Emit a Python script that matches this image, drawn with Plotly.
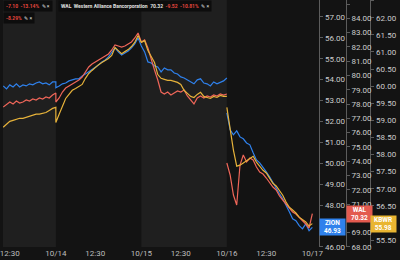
import plotly.graph_objects as go

# ---------------- data ----------------
# session minutes after 09:30 (15-min bars); 10/13 visible from 12:00
minutes_first = list(range(150, 391, 15))
minutes_day = list(range(0, 391, 15))
session_len = 390

zion_1013 = [53.70, 53.56, 53.75, 53.65, 53.80, 53.65, 53.75, 53.70, 53.80, 53.75, 53.84, 53.89, 53.80, 53.84, 53.75, 53.89, 53.89]
zion_1014 = [53.61, 53.70, 53.80, 53.84, 53.94, 53.99, 54.04, 54.04, 54.18, 54.27, 54.37, 54.47, 54.61, 54.70, 54.85, 54.94, 55.09, 55.28, 55.52, 55.33, 55.18, 55.28, 55.37, 55.52, 55.71, 56.00, 55.61]
zion_1015 = [55.61, 55.33, 54.85, 54.80, 54.66, 54.61, 54.37, 54.56, 54.47, 54.47, 54.32, 54.27, 54.13, 54.08, 53.99, 53.89, 53.80, 53.99, 54.04, 53.84, 53.80, 53.70, 53.89, 53.80, 53.89, 53.94, 54.08]
zion_1016 = [52.41, 51.60, 51.36, 51.55, 51.26, 51.17, 50.97, 50.88, 50.50, 50.16, 50.02, 49.83, 49.59, 49.35, 49.06, 48.78, 48.54, 48.30, 48.01, 47.68, 47.34, 47.25, 47.01, 46.86, 47.10, 46.77, 46.93]

wal_1013 = [77.79, 78.00, 78.14, 78.00, 78.21, 78.07, 78.14, 78.28, 78.21, 78.35, 78.28, 78.42, 78.35, 78.49, 78.42, 78.63, 78.77]
wal_1014 = [78.14, 78.42, 78.84, 79.12, 79.26, 79.40, 79.54, 79.68, 79.89, 80.24, 80.59, 80.80, 80.94, 81.08, 81.22, 81.36, 81.50, 81.78, 82.13, 82.06, 81.99, 82.06, 82.20, 82.34, 82.62, 82.97, 82.34]
wal_1015 = [82.34, 82.48, 81.92, 81.08, 80.38, 79.68, 78.84, 78.70, 78.84, 78.63, 78.77, 78.91, 78.84, 78.98, 78.56, 78.28, 78.00, 78.42, 78.56, 78.42, 78.56, 78.49, 78.63, 78.56, 78.70, 78.63, 78.70]
wal_1016 = [73.87, 73.03, 71.63, 70.93, 73.73, 74.43, 73.94, 74.22, 74.08, 73.59, 73.24, 73.10, 72.82, 72.47, 72.19, 71.98, 71.56, 71.28, 71.00, 70.72, 70.44, 70.30, 70.09, 69.81, 69.60, 69.32, 70.32]

kbwr_1013 = [58.80, 58.88, 58.97, 59.00, 59.03, 59.06, 59.06, 59.09, 59.12, 59.15, 59.18, 59.18, 59.20, 59.23, 59.29, 59.35, 59.38]
kbwr_1014 = [58.94, 59.18, 59.44, 59.64, 59.76, 59.88, 59.93, 59.99, 60.05, 60.23, 60.37, 60.46, 60.55, 60.63, 60.69, 60.75, 60.81, 60.90, 61.13, 61.04, 60.95, 61.01, 61.07, 61.16, 61.28, 61.48, 61.28]
kbwr_1015 = [61.28, 61.33, 61.04, 60.87, 60.69, 60.34, 60.23, 60.20, 60.17, 60.17, 60.14, 60.11, 60.05, 59.88, 59.79, 59.70, 59.67, 59.76, 59.82, 59.70, 59.67, 59.64, 59.70, 59.67, 59.73, 59.70, 59.70]
kbwr_1016 = [59.38, 58.71, 58.13, 57.66, 57.69, 57.75, 57.81, 57.89, 57.95, 57.78, 57.66, 57.54, 57.46, 57.31, 57.16, 57.08, 56.96, 56.81, 56.61, 56.46, 56.38, 56.29, 56.17, 56.11, 56.03, 55.91, 55.98]

# visible price-scale labels (those hidden under the price badges are left out)
zion_ticks = [46, 48, 49, 50, 51, 52, 53, 54, 55, 56, 57]
wal_ticks = [68, 69, 71, 72, 73, 74, 75, 76, 77, 78, 79, 80, 81, 82, 83, 84, 85]
kbwr_ticks = [55.5, 56.5, 57.0, 57.5, 58.0, 58.5, 59.0, 59.5, 60.0, 60.5, 61.0, 61.5, 62.0, 62.5]

day_labels = ["10/14", "10/15", "10/16", "10/17"]
mid_label = "12:30"
mid_offset = 180  # 12:30 is 180 min after open

header_zion = "-7.10  -13.14%"
header_wal_name = "WAL  Western Alliance Bancorporation"
header_wal_px = "70.32"
header_wal_chg = "-9.52  -10.81%"
header_kbwr = "-8.29%"

# ---------------- build ----------------
def build(d13, d14, d15, d16):
    xs, ys = [], []
    for m, v in zip(minutes_first, d13):
        xs.append(m); ys.append(v)
    for day, vals in ((1, d14), (2, d15)):
        for m, v in zip(minutes_day, vals):
            xs.append(day * session_len + m); ys.append(v)
    xs.append(None); ys.append(None)
    for m, v in zip(minutes_day, d16):
        xs.append(3 * session_len + m); ys.append(v)
    return xs, ys

zx, zy = build(zion_1013, zion_1014, zion_1015, zion_1016)
wx, wy = build(wal_1013, wal_1014, wal_1015, wal_1016)
kx, ky = build(kbwr_1013, kbwr_1014, kbwr_1015, kbwr_1016)

BLUE = "#2f81ec"
RED = "#ef6659"
YEL = "#e6b23a"

fig = go.Figure()
fig.add_trace(go.Scatter(x=kx, y=ky, mode="lines", line=dict(color=YEL, width=1.2), yaxis="y3", connectgaps=False))
fig.add_trace(go.Scatter(x=wx, y=wy, mode="lines", line=dict(color=RED, width=1.2), yaxis="y2", connectgaps=False))
fig.add_trace(go.Scatter(x=zx, y=zy, mode="lines", line=dict(color=BLUE, width=1.2), yaxis="y", connectgaps=False))

tickvals, ticktext = [], []
for i in range(4):
    tickvals.append(i * session_len + mid_offset); ticktext.append(mid_label)
    tickvals.append((i + 1) * session_len); ticktext.append(day_labels[i])

W, H = 400, 260
PLOT_H = 247
AX1 = 322 / W
AX2 = 349 / W
AX3 = 374 / W

tickfont = dict(family="Roboto", size=8, color="#cccccc")
yax_common = dict(showgrid=False, zeroline=False, showline=True, linecolor="#5c5c5c", linewidth=1,
                  ticks="outside", ticklen=3, tickcolor="#5c5c5c", tickfont=tickfont,
                  tickformat=".2f", side="right", tickmode="array")

fig.update_layout(
    width=W, height=H,
    margin=dict(l=0, r=0, t=0, b=H - PLOT_H),
    paper_bgcolor="#131313", plot_bgcolor="#131313",
    showlegend=False,
    xaxis=dict(domain=[0, AX1], range=[149, 1592], tickmode="array", tickvals=tickvals, ticktext=ticktext,
               ticklabeloverflow="allow",
               showgrid=False, zeroline=False, showline=False, ticks="", tickfont=dict(family="Roboto", size=8, color="#bdbdbd")),
    yaxis=dict(range=[45.99, 57.813], tickvals=zion_ticks, anchor="x", **yax_common),
    yaxis2=dict(range=[67.99, 85.28], tickvals=wal_ticks, overlaying="y", anchor="free", position=AX2, **yax_common),
    yaxis3=dict(range=[55.296, 62.52], tickvals=kbwr_ticks, overlaying="y", anchor="free", position=AX3, **yax_common),
)

# day bands
for d0, d1 in ((149, session_len), (2 * session_len, 3 * session_len)):
    fig.add_shape(type="rect", xref="x", yref="paper", x0=d0, x1=d1, y0=0, y1=1,
                  fillcolor="#1f1f1f", line=dict(width=0), layer="below")

# price badges
def badge(name, val, yref, color, xpos):
    fig.add_annotation(xref="paper", x=xpos, xanchor="left", yref=yref, y=val, yanchor="middle",
                       text=f"<b>{name}</b><br><b>{val:.2f}</b>", showarrow=False, align="center",
                       bgcolor=color, width=25, borderpad=0,
                       font=dict(family="Roboto", size=6.5, color="white"))

badge("ZION", zion_1016[-1], "y", BLUE, AX1)
badge("WAL", wal_1016[-1], "y2", "#e35a4f", AX2)
badge("KBWR", kbwr_1016[-1], "y3", "#e9b531", AX3)

# header chips
def py(p):
    return 1 - p / PLOT_H

hdr_font = dict(family="Roboto", size=5, color="#e0e0e0")
fig.add_annotation(xref="paper", yref="paper", x=0, xanchor="left", y=py(6), yanchor="middle",
                   text=f"<span style='color:#e2463d'><b>{header_zion}</b></span>  ✎ ×", showarrow=False,
                   bgcolor="#0d0d0d", borderpad=2, font=hdr_font)
fig.add_annotation(xref="paper", yref="paper", x=56 / W, xanchor="left", y=py(6), yanchor="middle",
                   text=f"<b>{header_wal_name}</b>  <b>{header_wal_px}</b>  <span style='color:#e2463d'><b>{header_wal_chg}</b></span>  ✎ ×",
                   showarrow=False, bgcolor="#0d0d0d", borderpad=2, font=hdr_font)
fig.add_annotation(xref="paper", yref="paper", x=0, xanchor="left", y=py(18), yanchor="middle",
                   text=f"<span style='color:#e2463d'><b>{header_kbwr}</b></span>  ✎ ×", showarrow=False,
                   bgcolor="#0d0d0d", borderpad=2, font=hdr_font)

fig.write_html("out.html")
